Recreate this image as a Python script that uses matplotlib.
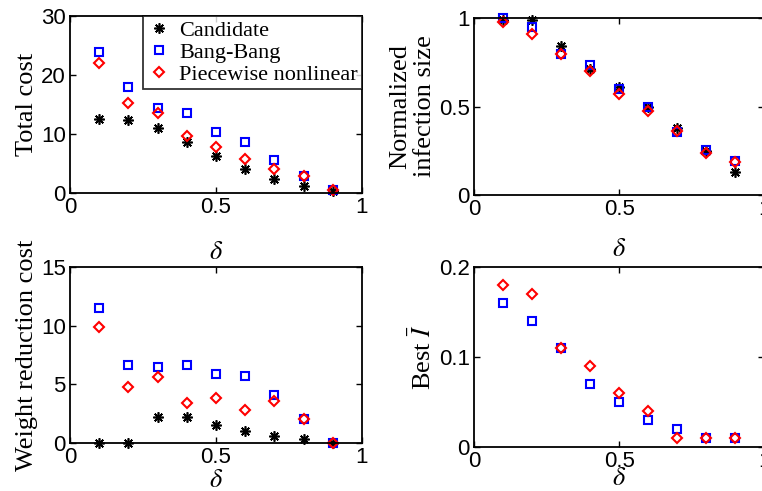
import numpy as np
import matplotlib
matplotlib.use('Agg')
from matplotlib import pyplot as plt

plt.rcParams['font.family'] = 'Liberation Sans'
plt.rcParams['mathtext.fontset'] = 'stix'
plt.rcParams['xtick.direction'] = 'in'
plt.rcParams['ytick.direction'] = 'in'
plt.rcParams['xtick.top'] = True
plt.rcParams['ytick.right'] = True

delta = [0.1, 0.2, 0.3, 0.4, 0.5, 0.6, 0.7, 0.8, 0.9]

# total cost
cost_cand = [12.6, 12.3, 11.0, 8.6, 6.25, 4.1, 2.3, 1.1, 0.3]
cost_bang = [24.0, 18.0, 14.5, 13.5, 10.4, 8.7, 5.6, 2.8, 0.45]
cost_pw = [22.0, 15.2, 13.5, 9.7, 7.8, 5.7, 4.0, 2.8, 0.55]

# normalized infection size
inf_cand = [0.99, 0.99, 0.84, 0.71, 0.61, 0.50, 0.38, 0.25, 0.13]
inf_bang = [1.0, 0.95, 0.80, 0.735, 0.60, 0.495, 0.355, 0.255, 0.19]
inf_pw = [0.98, 0.91, 0.80, 0.70, 0.57, 0.475, 0.36, 0.24, 0.185]

# weight reduction cost
wr_cand = [0.0, 0.0, 2.2, 2.25, 1.5, 1.0, 0.57, 0.3, 0.0]
wr_bang = [11.55, 6.65, 6.45, 6.65, 5.85, 5.7, 4.05, 2.0, 0.0]
wr_pw = [9.9, 4.8, 5.6, 3.4, 3.8, 2.8, 3.6, 2.0, 0.0]

# best I bar
ib_bang = [0.16, 0.14, 0.11, 0.07, 0.05, 0.03, 0.02, 0.01, 0.01]
ib_pw = [0.18, 0.17, 0.11, 0.09, 0.06, 0.04, 0.01, 0.01, 0.01]

star = dict(marker=(8, 2, 0), color='k', ms=7.5, mew=1.2, ls='none')
sq = dict(marker='s', mfc='none', mec='b', ms=5.5, mew=1.5, ls='none')
dia = dict(marker='D', mfc='none', mec='r', ms=5.5, mew=1.5, ls='none')

tfs = 16
lfs = 19
serif = 'Liberation Serif'

fig = plt.figure(figsize=(7.62, 4.91), dpi=100)

ax1 = fig.add_axes([0.092, 0.607, 0.383, 0.360])
ax1.plot(delta, cost_cand, label='Candidate', **star)
ax1.plot(delta, cost_bang, label='Bang-Bang', **sq)
ax1.plot(delta, cost_pw, label='Piecewise nonlinear', **dia)
ax1.set_xlim(0, 1)
ax1.set_ylim(0, 30)
ax1.set_xticks([0, 0.5, 1])
ax1.set_xticklabels(['0', '0.5', '1'])
ax1.set_yticks([0, 10, 20, 30])
ax1.set_ylabel('Total cost', family=serif, fontsize=lfs, labelpad=2)
ax1.set_xlabel(r'$\delta$', fontsize=lfs, labelpad=16)
leg = ax1.legend(loc='upper right', borderaxespad=0, fancybox=False,
                 edgecolor='k', prop={'family': serif, 'size': 16},
                 handletextpad=0.4, borderpad=0.2, labelspacing=0.05,
                 handlelength=1.0)
leg.get_frame().set_linewidth(1.3)

ax2 = fig.add_axes([0.622, 0.603, 0.381, 0.360])
ax2.plot(delta, inf_cand, **star)
ax2.plot(delta, inf_bang, **sq)
ax2.plot(delta, inf_pw, **dia)
ax2.set_xlim(0, 1)
ax2.set_ylim(0, 1)
ax2.set_xticks([0, 0.5, 1])
ax2.set_xticklabels(['0', '0.5', '1'])
ax2.set_yticks([0, 0.5, 1])
ax2.set_yticklabels(['0', '0.5', '1'])
ax2.set_ylabel('Normalized\ninfection size', family=serif, fontsize=lfs,
               linespacing=1.15, labelpad=2)
ax2.set_xlabel(r'$\delta$', fontsize=lfs, labelpad=12)

ax3 = fig.add_axes([0.092, 0.098, 0.383, 0.358])
ax3.plot(delta, wr_cand, **star)
ax3.plot(delta, wr_bang, **sq)
ax3.plot(delta, wr_pw, **dia)
ax3.set_xlim(0, 1)
ax3.set_ylim(0, 15)
ax3.set_xticks([0, 0.5, 1])
ax3.set_xticklabels(['0', '0.5', '1'])
ax3.set_yticks([0, 5, 10, 15])
ax3.set_ylabel('Weight reduction cost', family=serif, fontsize=lfs, labelpad=2)
ax3.set_xlabel(r'$\delta$', fontsize=lfs, labelpad=0)

ax4 = fig.add_axes([0.622, 0.090, 0.381, 0.366])
ax4.plot(delta, ib_bang, **sq)
ax4.plot(delta, ib_pw, **dia)
ax4.set_xlim(0, 1)
ax4.set_ylim(0, 0.2)
ax4.set_xticks([0, 0.5, 1])
ax4.set_xticklabels(['0', '0.5', '1'])
ax4.set_yticks([0, 0.1, 0.2])
ax4.set_yticklabels(['0', '0.1', '0.2'])
ax4.set_ylabel(r'Best $\bar{I}$', family=serif, fontsize=lfs, labelpad=2)
ax4.set_xlabel(r'$\delta$', fontsize=lfs, labelpad=-4)

for ax in [ax1, ax2, ax3, ax4]:
    ax.tick_params(labelsize=tfs, length=4, width=1, pad=3)
    for s in ax.spines.values():
        s.set_linewidth(1.3)
    for m in ax.lines:
        m.set_clip_on(False)

fig.savefig('out.png', dpi=100)
